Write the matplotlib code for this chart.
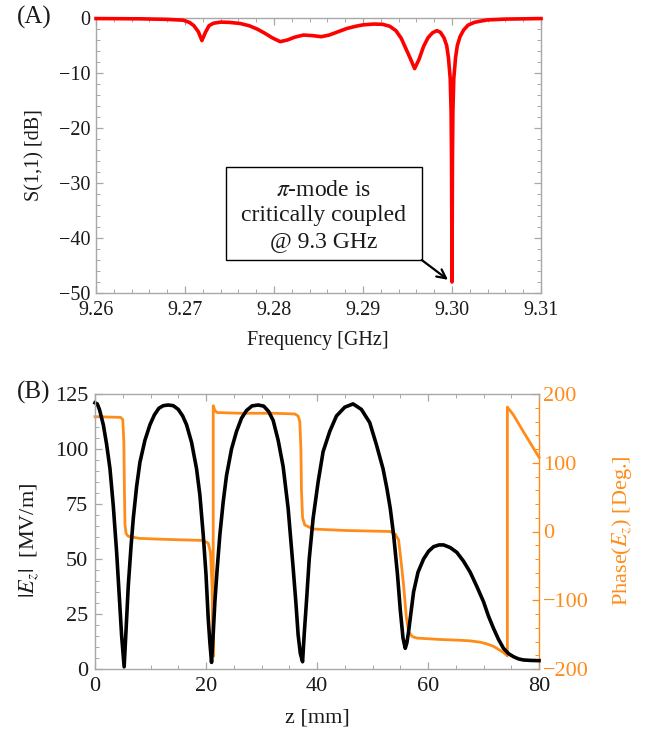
import matplotlib
matplotlib.use('Agg')
import matplotlib.pyplot as plt
from matplotlib.ticker import MultipleLocator, FormatStrFormatter
from matplotlib.patches import Rectangle

plt.rcParams['font.family'] = ['Liberation Serif', 'DejaVu Serif']
plt.rcParams['mathtext.fontset'] = 'stix'
plt.rcParams['axes.unicode_minus'] = True

# ---------------- data ----------------
freq_ghz = [9.2600, 9.2650, 9.2680, 9.2698, 9.2705, 9.2710, 9.2715, 9.2719, 9.2723,
            9.2727, 9.2732, 9.2740, 9.2750, 9.2762, 9.2772, 9.2781, 9.2790, 9.2798,
            9.2807, 9.2815, 9.2823, 9.2833, 9.2843, 9.2853, 9.2862, 9.2872, 9.2882,
            9.2892, 9.2900, 9.2912, 9.2922, 9.2930, 9.2937, 9.2943, 9.2948, 9.2953,
            9.2958, 9.2963, 9.2968, 9.2973, 9.2978, 9.2983, 9.2987, 9.2991, 9.2994,
            9.2996, 9.2998, 9.2999, 9.29995, 9.3000, 9.30005, 9.3001, 9.3002, 9.3004,
            9.3006, 9.3009, 9.3013, 9.3018, 9.3025, 9.3031, 9.3040, 9.3060, 9.3100]
s11_db = [-0.10, -0.15, -0.25, -0.40, -0.80, -1.4, -2.5, -4.1, -2.6,
          -1.4, -0.95, -0.75, -0.80, -1.0, -1.4, -2.0, -2.8, -3.6,
          -4.3, -4.0, -3.5, -3.1, -3.2, -3.4, -3.1, -2.5, -1.9,
          -1.5, -1.25, -1.1, -1.15, -1.5, -2.3, -3.7, -5.5, -7.3,
          -9.2, -7.5, -5.2, -3.6, -2.7, -2.3, -2.6, -3.6, -5.0,
          -7.2, -11.0, -17.0, -26.0, -48.0, -26.0, -17.0, -11.0, -7.2,
          -5.0, -3.4, -2.2, -1.3, -0.8, -0.6, -0.35, -0.2, -0.1]

z_abs_mm = [0.0, 0.4, 0.8, 1.5, 2.1, 2.7, 3.3, 3.9, 4.4, 4.8, 5.25,
            5.6, 6.0, 6.5, 6.9, 7.5, 8.1, 9.0, 9.9, 10.7, 11.5, 12.3, 13.2,
            14.1, 15.0, 15.8, 16.5, 17.4, 18.3, 18.9, 19.5, 20.0, 20.4, 20.7, 21.0,
            21.3, 21.6, 22.0, 22.5, 23.1, 23.7, 24.6, 25.5, 26.4, 27.3, 28.3, 29.4,
            30.4, 31.3, 32.1, 33.0, 33.9, 34.8, 35.7, 36.2, 36.6, 37.0, 37.4,
            37.7, 38.1, 38.6, 39.3, 40.2, 41.1, 42.3, 43.5, 45.0, 46.5,
            48.0, 49.5, 50.7, 51.9, 52.6, 53.2, 53.8, 54.5, 55.0, 55.5, 55.9,
            56.2, 56.5, 57.0, 57.4, 58.2, 59.2, 60.1, 61.0, 62.0, 62.8,
            64.0, 65.2, 66.4, 67.6, 68.8, 70.0, 70.9, 71.8, 72.7, 73.6, 74.5,
            75.4, 76.3, 77.2, 78.5, 80.0]
ez_abs = [121, 120.5, 118, 111, 102, 91, 74, 53, 32, 15, 1,
          18, 38, 56, 68.5, 83, 94, 104, 111, 115.5, 118.5, 119.7, 120,
          119.7, 118, 115, 111, 103, 91, 79, 61, 43, 23, 12, 3,
          16, 30.6, 45, 61, 76, 88, 100, 108, 114, 117.5, 119.6, 120,
          119.5, 117, 113, 104, 92, 73, 46, 30, 15.5, 7, 3.3,
          16, 30.6, 50, 68.5, 85, 98.8, 108, 115, 119, 120.5,
          118, 112, 102, 91, 82, 73, 61, 43, 27, 14, 9.4,
          12, 17, 27, 35, 44, 50, 53.5, 55.6, 56.4, 56.4,
          55.2, 53, 49, 44, 37.5, 30.6, 24, 18.5, 13.5, 9.4, 7,
          5.6, 4.6, 4.1, 3.9, 3.8]

z_ph_mm = [0.0, 4.6, 5.0, 5.2, 5.3, 5.4, 5.6, 6.0, 8.0, 11.1, 15.0, 19.5, 20.4, 20.8,
           21.1, 21.3, 21.3, 21.6, 22.0, 26.1, 32.0, 36.0, 36.6, 36.9, 37.1, 37.2,
           37.4, 37.8, 39.3, 45.0, 53.2, 54.1, 54.7, 55.1, 55.6, 56.1, 56.5, 57.2,
           58.0, 62.0, 65.2, 67.5, 69.4, 70.6, 71.8, 72.8, 73.6, 74.3, 74.3,
           75.4, 77.2, 80.0]
ez_phase_deg = [167, 166, 163, 130, 60, 10, -3, -7, -10, -11, -12, -13, -17, -30,
                -80, -182, 183, 176, 173, 172, 172, 171, 168, 160, 120, 60,
                20, 9.5, 3.6, 1.5, 0, -4, -12, -40, -78, -125, -146, -153,
                -155, -157, -158, -159, -161, -163.5, -167, -172, -176, -181, 181,
                169.5, 145, 108]

annot_lines = [r'$\pi$-mode is', 'critically coupled', '@ 9.3 GHz']

# ---------------- styling ----------------
W, H = 654, 738
RED = '#ff0000'
ORANGE = '#ff8c1a'
SPINE = '#a8a8a8'
TXT = '#1a1a1a'

fig = plt.figure(figsize=(W / 100, H / 100), dpi=100)


def px_axes(l, t, r, b):
    return fig.add_axes([l / W, 1 - b / H, (r - l) / W, (b - t) / H])


def fig_text(x, y, s, **kw):
    fig.text(x / W, 1 - y / H, s, **kw)


# ---------------- panel A ----------------
ax1 = px_axes(96, 18, 541, 293)
ax1.plot(freq_ghz, s11_db, color=RED, lw=2.6, solid_joinstyle='round', clip_on=False, zorder=3)
ax1.set_xlim(9.26, 9.31)
ax1.set_ylim(-50, 0)
ax1.xaxis.set_major_locator(MultipleLocator(0.01))
ax1.xaxis.set_minor_locator(MultipleLocator(0.002))
ax1.xaxis.set_major_formatter(FormatStrFormatter('%.2f'))
ax1.yaxis.set_major_locator(MultipleLocator(10))
ax1.yaxis.set_minor_locator(MultipleLocator(2))
for sp in ax1.spines.values():
    sp.set_color(SPINE)
    sp.set_linewidth(1.0)
ax1.tick_params(which='both', direction='in', top=True, right=True, color=SPINE,
                labelcolor=TXT, labelsize=14.5)
ax1.tick_params(which='major', length=5, width=0.9)
ax1.tick_params(which='minor', length=3, width=0.7)
ax1.tick_params(axis='x', pad=6)
ax1.tick_params(axis='y', pad=4)

# annotation box
ax1.add_patch(Rectangle((9.2746, -44.0), 0.0220, 17.0, fill=False, ec='black', lw=1.0, zorder=4))
for yy, s in zip([-31.3, -35.9, -40.6], annot_lines):
    ax1.text(9.2856, yy, s, ha='center', va='center', fontsize=17, color=TXT, zorder=5)
ax1.annotate('', xy=(9.29955, -47.6), xytext=(9.2966, -44.0),
             arrowprops=dict(arrowstyle='->', color='black', lw=1.6, shrinkA=0, shrinkB=0,
                             mutation_scale=16), zorder=5)

fig_text(35, 155, 'S(1,1) [dB]', rotation=90, ha='center', va='center', fontsize=14.5, color=TXT)
fig_text(318, 341, 'Frequency [GHz]', ha='center', va='center', fontsize=14.5, color=TXT)
fig_text(17, 17, '(A)', ha='left', va='center', fontsize=18, color=TXT)

# ---------------- panel B ----------------
ax2 = px_axes(95, 394, 539, 669)
ax3 = ax2.twinx()
ax2.set_zorder(ax3.get_zorder() + 1)
ax2.patch.set_visible(False)

ax3.plot(z_ph_mm, ez_phase_deg, color=ORANGE, lw=2.0, clip_on=False)
ax2.plot(z_abs_mm, ez_abs, color='black', lw=2.6, solid_joinstyle='round', clip_on=False)

ax2.set_xlim(0, 80)
ax2.set_ylim(0, 125)
ax3.set_ylim(-200, 200)
ax2.xaxis.set_major_locator(MultipleLocator(20))
ax2.xaxis.set_minor_locator(MultipleLocator(5))
ax2.yaxis.set_major_locator(MultipleLocator(25))
ax2.yaxis.set_minor_locator(MultipleLocator(5))
ax3.yaxis.set_major_locator(MultipleLocator(100))
ax3.yaxis.set_minor_locator(MultipleLocator(20))

for name, sp in ax2.spines.items():
    sp.set_color(SPINE)
    sp.set_linewidth(1.0)
ax2.spines['right'].set_visible(False)
for name, sp in ax3.spines.items():
    if name == 'right':
        sp.set_color(ORANGE)
        sp.set_linewidth(1.0)
    else:
        sp.set_visible(False)

ax2.tick_params(which='both', direction='in', top=True, right=False, color=SPINE,
                labelcolor=TXT, labelsize=16)
ax2.tick_params(which='major', length=5, width=0.9)
ax2.tick_params(which='minor', length=3, width=0.7)
ax2.tick_params(axis='x', pad=6)
ax2.tick_params(axis='y', pad=5)
ax3.tick_params(which='both', direction='in', color=ORANGE, labelcolor=ORANGE, labelsize=16)
ax3.tick_params(which='major', length=5, width=0.9, pad=3)
ax3.tick_params(which='minor', length=3, width=0.7)

fig_text(29, 540, r'$|E_z|$  [MV/m]', rotation=90, ha='center', va='center', fontsize=16, color=TXT)
fig_text(622, 531, r'Phase($E_z$) [Deg.]', rotation=90, ha='center', va='center', fontsize=16, color=ORANGE)
fig_text(317, 718, 'z [mm]', ha='center', va='center', fontsize=16, color=TXT)
fig_text(17, 392, '(B)', ha='left', va='center', fontsize=18, color=TXT)

fig.savefig('out.png', dpi=100)
